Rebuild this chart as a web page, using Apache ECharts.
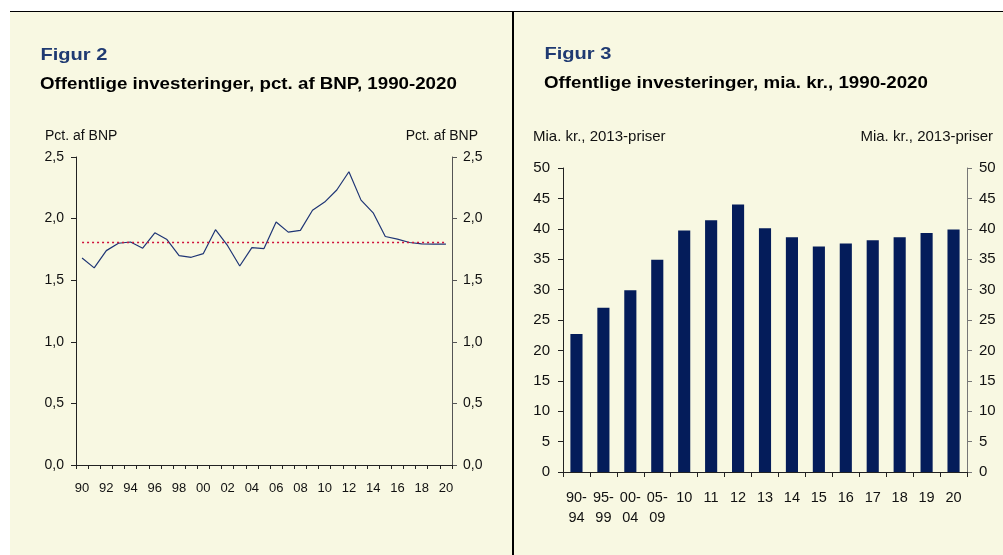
<!DOCTYPE html>
<html>
<head>
<meta charset="utf-8">
<script src="https://cdn.jsdelivr.net/npm/echarts@6/dist/echarts.min.js"></script>
<style>
html,body{margin:0;padding:0;background:#fff;}
#bg{position:absolute;left:10px;top:11px;width:993px;height:544px;background:#F8F8E2;border-top:1.5px solid #000;}
#div{position:absolute;left:512px;top:11px;width:1.5px;height:544px;background:#000;}
#chart{position:absolute;left:0;top:0;width:1003px;height:555px;}
</style>
</head>
<body>
<div id="bg"></div>
<div id="div"></div>
<div id="chart"></div>
<script>
// Figur 2: offentlige investeringer, pct. af BNP
const years = ['1990','1991','1992','1993','1994','1995','1996','1997','1998','1999','2000','2001','2002','2003','2004','2005','2006','2007','2008','2009','2010','2011','2012','2013','2014','2015','2016','2017','2018','2019','2020'];
const pctBNP = [1.68,1.60,1.74,1.80,1.81,1.76,1.885,1.83,1.70,1.686,1.716,1.91,1.78,1.615,1.765,1.757,1.973,1.89,1.904,2.068,2.134,2.232,2.38,2.15,2.047,1.855,1.833,1.806,1.795,1.793,1.793];
const refLevel = 1.81;
const pctTicks = {min:0, max:2.5, interval:0.5};

// Figur 3: offentlige investeringer, mia. kr., 2013-priser
const periods = ['90-\n94','95-\n99','00-\n04','05-\n09','10','11','12','13','14','15','16','17','18','19','20'];
const miaKr = [22.7,27.0,29.9,34.9,39.7,41.4,44.0,40.1,38.6,37.1,37.6,38.1,38.6,39.3,39.9];
const krTicks = {min:0, max:50, interval:5};

const FONT = '"Liberation Sans", Arial, sans-serif';
const navy = '#1F3A72';
const axisCol = '#222';
const fmtComma = v => v.toFixed(1).replace('.', ',');

const chart = echarts.init(document.getElementById('chart'), null, {renderer:'canvas'});

function yAx(grid, pos, t, fmt, lineCol, margin, fs){
  return {
    type:'value', gridIndex:grid, position:pos, min:t.min, max:t.max, interval:t.interval,
    axisLine:{show:true, lineStyle:{color:lineCol, width:1}},
    axisTick:{show:true, length:5, lineStyle:{color:lineCol}},
    splitLine:{show:false},
    axisLabel:{color:'#111', fontSize:fs, fontFamily:FONT, margin:margin, formatter:fmt}
  };
}

function heading(text, x, y, size, color, sx){
  return {type:'text', x:x, y:y, scaleX:sx, z:10,
    style:{text:text, x:0, y:0, fill:color, font:'bold ' + size + 'px ' + FONT,
           align:'left', verticalAlign:'middle'}};
}

const option = {
  backgroundColor:'transparent',
  animation:false,
  textStyle:{fontFamily:FONT},
  graphic:[
    heading('Figur 2', 40.5, 55, 17, navy, 1.18),
    heading('Offentlige investeringer, pct. af BNP, 1990-2020', 40, 84.5, 16, '#000', 1.17),
    heading('Figur 3', 544.5, 54, 17, navy, 1.18),
    heading('Offentlige investeringer, mia. kr., 1990-2020', 544, 83.5, 16, '#000', 1.17)
  ],
  title:[
    {text:'Pct. af BNP', left:40, top:124, textStyle:{color:'#111', fontSize:14, fontWeight:'normal', fontFamily:FONT}},
    {text:'Pct. af BNP', right:520, top:124, textStyle:{color:'#111', fontSize:14, fontWeight:'normal', fontFamily:FONT}},
    {text:'Mia. kr., 2013-priser', left:528, top:124, textStyle:{color:'#111', fontSize:15, fontWeight:'normal', fontFamily:FONT}},
    {text:'Mia. kr., 2013-priser', right:5, top:124, textStyle:{color:'#111', fontSize:15, fontWeight:'normal', fontFamily:FONT}}
  ],
  grid:[
    {left:76, right:551, top:157, bottom:90},
    {left:563, right:36, top:168, bottom:83}
  ],
  xAxis:[
    {type:'category', gridIndex:0, data:years, boundaryGap:true,
     axisLine:{lineStyle:{color:axisCol}},
     axisTick:{show:true, interval:0, length:4, lineStyle:{color:axisCol}},
     axisLabel:{interval:1, color:'#111', fontSize:13, fontFamily:FONT, margin:17, formatter:v => v.slice(2)}},
    {type:'category', gridIndex:1, data:periods, boundaryGap:true,
     axisLine:{lineStyle:{color:axisCol}},
     axisTick:{show:true, interval:0, length:5, lineStyle:{color:axisCol}},
     axisLabel:{interval:0, color:'#111', fontSize:14.5, fontFamily:FONT, margin:16, lineHeight:20}}
  ],
  yAxis:[
    yAx(0,'left',pctTicks,fmtComma,axisCol,12,14),
    yAx(0,'right',pctTicks,fmtComma,'#555',11,14),
    yAx(1,'left',krTicks,null,axisCol,13,15),
    yAx(1,'right',krTicks,null,'#777',12,15)
  ],
  series:[
    {type:'line', xAxisIndex:0, yAxisIndex:0, data:pctBNP, symbol:'none',
     lineStyle:{color:'#1F3575', width:1.2},
     markLine:{silent:true, symbol:'none', label:{show:false},
       lineStyle:{color:'#D0103A', type:[2,3], width:1.3},
       data:[[{coord:[years[0], refLevel]},{coord:[years[years.length-1], refLevel]}]]}},
    {type:'bar', xAxisIndex:1, yAxisIndex:2, data:miaKr, barWidth:'45%',
     itemStyle:{color:'#041C5A'}}
  ]
};
chart.setOption(option);
</script>
</body>
</html>
